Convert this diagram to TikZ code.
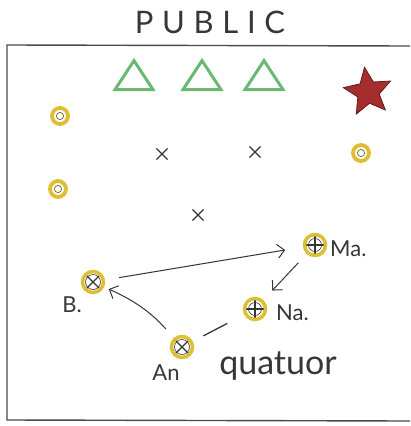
\documentclass[tikz,border=0pt]{standalone}
\usepackage{fontspec}
\setmainfont{Lato}
\usetikzlibrary{shapes.geometric,shapes.misc,arrows.meta}
\definecolor{ringyellow}{RGB}{222,190,50}
\definecolor{ringdark}{RGB}{120,100,30}
\definecolor{trigreen}{RGB}{105,185,115}
\definecolor{starred}{RGB}{165,45,45}
\definecolor{ink}{RGB}{55,55,55}
\tikzset{
  x=1pt, y=-1pt,
  frame/.style={draw=ink!90, line width=1.4pt},
  spot/.style={circle, minimum width=16pt, minimum height=13pt, inner sep=0pt, draw=ringyellow, line width=3.8pt,
    path picture={\draw[ringdark, line width=0.7pt] (path picture bounding box.center) circle (3.6pt);}},
  defender/.style={draw=ink, cross out, minimum size=10pt, inner sep=0pt, line width=1.2pt},
  tri/.style={regular polygon, regular polygon sides=3, minimum size=44pt, draw=trigreen, line width=3pt, inner sep=0pt, yscale=0.88, transform shape},
  starmark/.style={star, star points=5, star point ratio=2.2, minimum size=50pt, inner sep=0pt, fill=starred, draw=starred!60!black, line width=0.8pt},
  player/.style={circle, minimum size=21pt, inner sep=0pt, draw=ringyellow, line width=3.5pt},
  crossx/.style={path picture={\draw[ink, line width=1.1pt]
     (path picture bounding box.north west) -- (path picture bounding box.south east)
     (path picture bounding box.north east) -- (path picture bounding box.south west);
     \draw[ink, line width=0.6pt] (path picture bounding box.center) circle (7.5pt);}},
  crossplus/.style={path picture={\draw[ink, line width=1.1pt]
     (path picture bounding box.north) -- (path picture bounding box.south)
     (path picture bounding box.east) -- (path picture bounding box.west);
     \draw[ink, line width=0.6pt] (path picture bounding box.center) circle (6.5pt);}},
  lbl/.style={text=ink, inner sep=0pt, font=\fontsize{22}{24}\selectfont},
  pass/.style={draw=ink, line width=1pt, -{Straight Barb[length=7pt,width=14pt,line width=1pt]}},
  link/.style={draw=ink, line width=1.3pt}
}
\begin{document}
\begin{tikzpicture}
\useasboundingbox (0,0) rectangle (411,426);
\fill[white] (0,0) rectangle (411,426);
% title
\node[text=ink, font=\fontsize{31}{33}\selectfont\addfontfeature{LetterSpace=28}] (title) at (210,22) {PUBLIC};
% frame
\draw[frame] (410,46) -- (7,45) -- (7,420) -- (410,421);
% triangles
\node[tri] (t1) at (134,80) {};
\node[tri] (t2) at (202,80) {};
\node[tri] (t3) at (264,80) {};
% star
\node[starmark, rotate=8] (st) at (368,92) {};
% yellow spots
\node[spot] (s1) at (60,116) {};
\node[spot] (s2) at (361,153) {};
\node[spot] (s3) at (58,189) {};
% defenders
\node[defender] (d1) at (162,154) {};
\node[defender] (d2) at (255,152) {};
\node[defender] (d3) at (198,215) {};
% players
\node[player, crossplus] (ma) at (315,245) {};
\node[player, crossx] (b) at (93,282) {};
\node[player, crossplus] (na) at (255,309) {};
\node[player, crossx] (an) at (182,347) {};
% labels
\node[lbl, anchor=west] (lma) at (330,249) {Ma.};
\node[lbl, anchor=west] (lna) at (276,313) {Na.};
\node[lbl, anchor=east] (lb) at (82,305) {B.};
\node[lbl] (lan) at (166,373) {An};
\node[text=ink, inner sep=0pt, font=\fontsize{34}{36}\selectfont] (q) at (278,366) {quatuor};
% connectors
\draw[pass, shorten <=14pt, shorten >=18pt] (b) -- (ma);
\draw[pass, shorten <=12pt, shorten >=13pt] (ma) -- (na);
\draw[pass, shorten <=12pt, shorten >=5pt] (an) to[bend right=12] (b);
\draw[link, shorten <=19pt, shorten >=12pt] (na) -- (an);
\end{tikzpicture}
\end{document}
